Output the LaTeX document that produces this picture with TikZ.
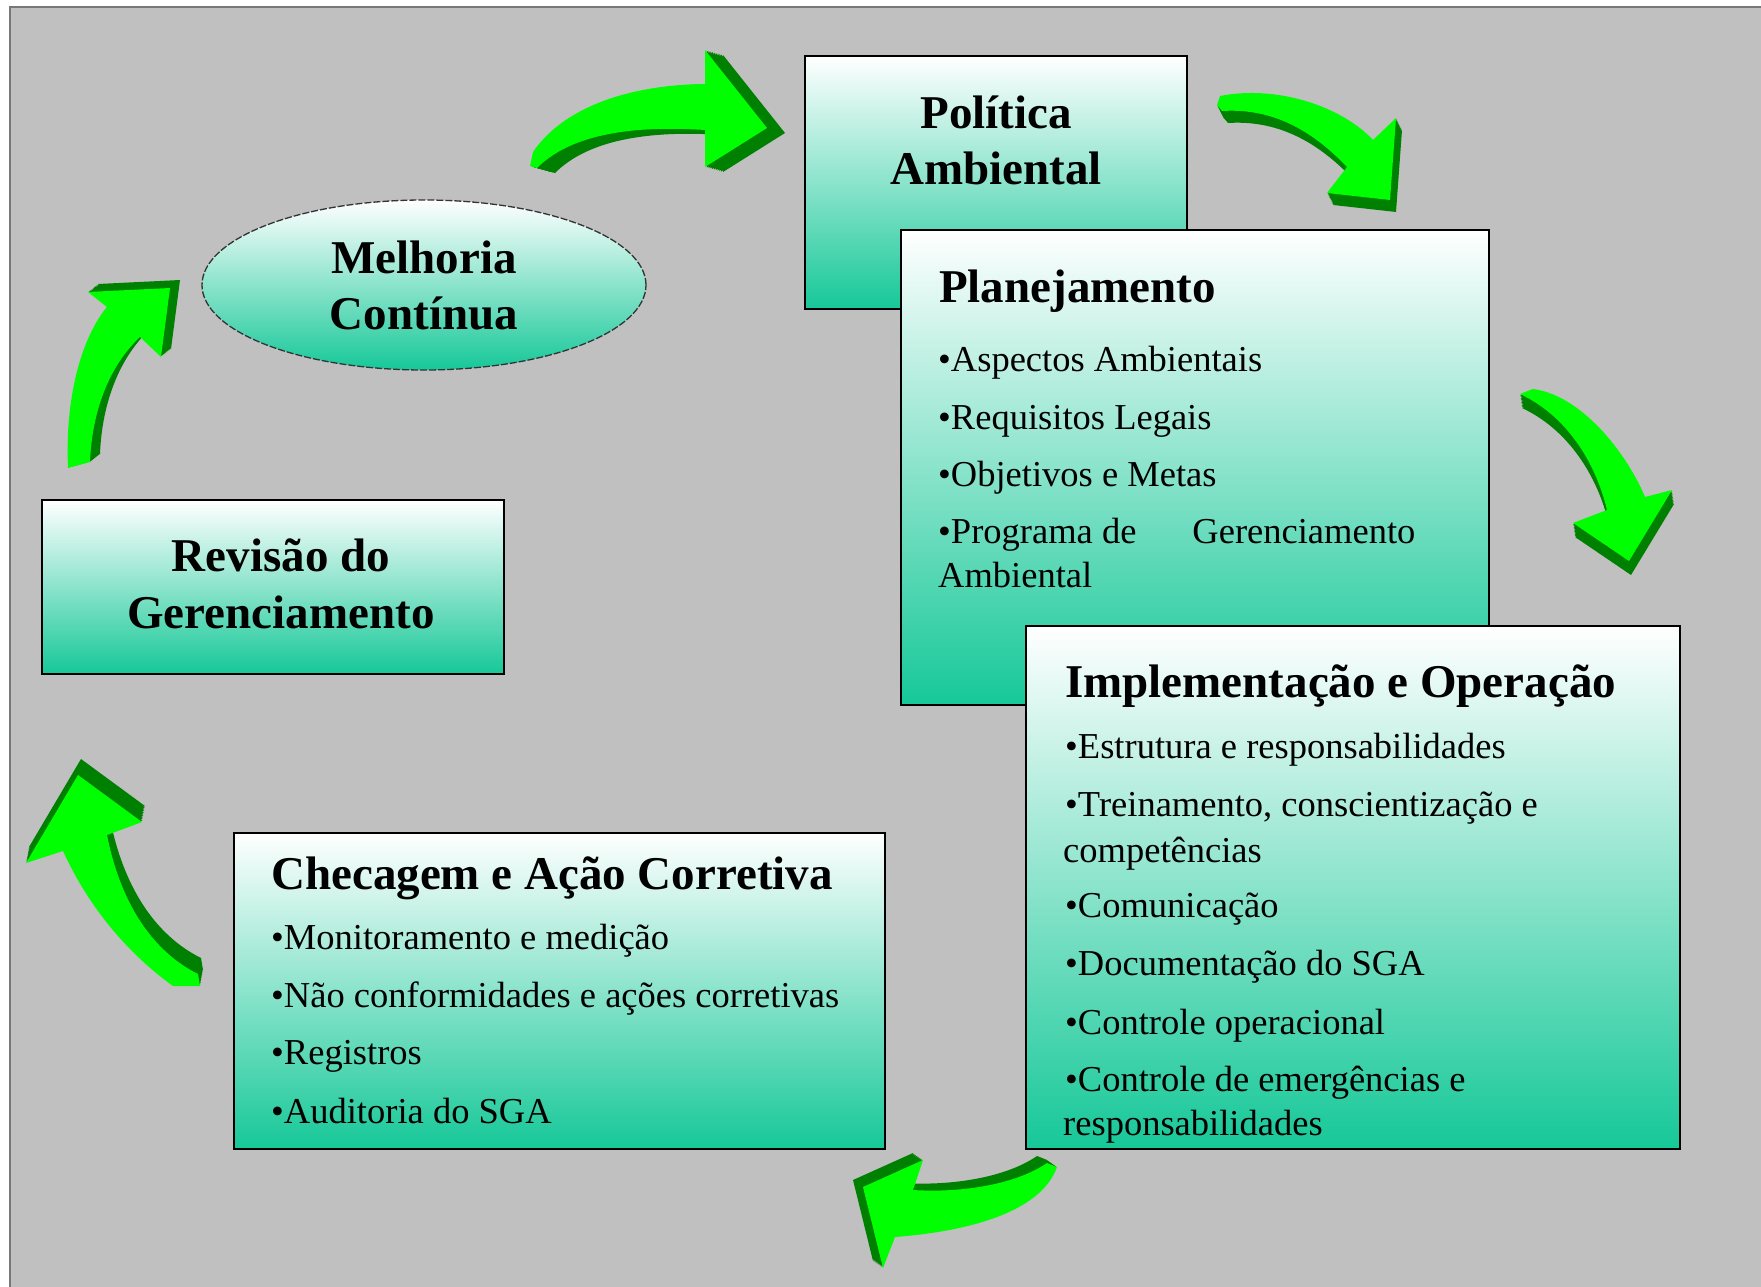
\documentclass[tikz,border=0pt]{standalone}
\usepackage{fontspec}
\setmainfont{Liberation Serif}
\usetikzlibrary{shapes.geometric}
\definecolor{bggray}{RGB}{192,192,192}
\definecolor{framegray}{RGB}{120,120,120}
\definecolor{teal1}{RGB}{22,200,152}
\definecolor{lgreen}{RGB}{0,255,0}
\definecolor{dgreen}{RGB}{0,128,0}
\newcommand{\greenarrow}[3]{%
  \foreach \tt in {0.1,0.2,0.3,0.4,0.5,0.6,0.7,0.8,0.9,1.0}{%
    \fill[dgreen, shift={({\tt*(#1)},{\tt*(#2)})}] #3;}
  \fill[lgreen] #3;
}
\begin{document}
\begin{tikzpicture}[x=1pt,y=-1pt,
  box/.style={rectangle, draw=black, line width=1.5pt, top color=white, bottom color=teal1, inner sep=0pt},
  ttl/.style={font=\fontsize{47}{56}\selectfont\bfseries, align=center, inner sep=0pt},
  lhead/.style={font=\fontsize{47}{56}\selectfont\bfseries, anchor=mid west, inner sep=0pt},
  itm/.style={font=\fontsize{36.5}{44}\selectfont, anchor=mid west, inner sep=0pt}]
\useasboundingbox (0,0) rectangle (1761,1287);
\fill[white] (0,0) rectangle (1761,1287);
\draw[draw=framegray, fill=bggray, line width=2pt] (10,7) rectangle (1766,1295);

% arrows
\greenarrow{18}{5}{(530,166) -- (533,152) .. controls (560,112) and (620,85) .. (705,84) -- (705,50) -- (767,128) -- (705,167) -- (705,130) .. controls (630,125) and (570,135) .. (537,168) -- cycle}
\greenarrow{6}{12}{(1217,105) -- (1220,96) .. controls (1275,85) and (1340,105) .. (1373,140) -- (1396,118) -- (1390,200) -- (1327,193) -- (1347,167) .. controls (1310,128) and (1270,108) .. (1222,111) -- cycle}
\greenarrow{2}{14}{(1520,394) -- (1533,389) .. controls (1580,395) and (1625,450) .. (1645,497) -- (1672,490) -- (1629,561) -- (1573,523) -- (1607,510) .. controls (1595,460) and (1565,415) .. (1520,394) -- cycle}
\greenarrow{-10}{-7}{(1057,1167) .. controls (1040,1215) and (960,1232) .. (895,1237) -- (883,1268) -- (863,1187) -- (923,1160) -- (913,1190) .. controls (960,1193) and (1015,1185) .. (1047,1163) -- cycle}
\greenarrow{3}{-16}{(173,986) .. controls (130,955) and (90,910) .. (63,851) -- (26,863) -- (78,775) -- (142,822) -- (107,835) .. controls (120,900) and (150,950) .. (198,974) -- (200,986) -- cycle}
\greenarrow{10}{-8}{(68,468) .. controls (65,400) and (80,340) .. (107,307) -- (88,292) -- (170,288) -- (161,357) -- (140,337) .. controls (110,365) and (92,410) .. (90,462) -- cycle}

% Melhoria
\node[ellipse, draw=black!80, dashed, dash pattern=on 7pt off 2pt, line width=1.3pt, top color=white, bottom color=teal1,
  minimum width=444, minimum height=170, inner sep=0pt, align=center, font=\fontsize{47}{56}\selectfont\bfseries]
  (mel) at (424,285) {Melhoria\\Contínua};

% Revisao
\node[box, minimum width=462, minimum height=174] (rev) at (273,587) {};
\node[ttl, font=\fontsize{47}{57}\selectfont\bfseries] (revt) at (281,584) {Revisão do\\Gerenciamento};

% Politica
\node[box, minimum width=382, minimum height=253] (pol) at (996,182.5) {};
\node[ttl] (polt) at (996,140) {Política\\Ambiental};

% Planejamento
\node[box, minimum width=588, minimum height=475] (plan) at (1195,467.5) {};
\node[lhead] (plant) at (939,300) {Planejamento};
\node[itm] (p1) at (938,369) {•Aspectos Ambientais};
\node[itm] (p2) at (938,427) {•Requisitos Legais};
\node[itm] (p3) at (938,484) {•Objetivos e Metas};
\node[itm] (p4) at (938,541) {•Programa de\hspace{56pt}Gerenciamento};
\node[itm] (p4b) at (938,585) {Ambiental};

% Implementacao
\node[box, minimum width=654, minimum height=523] (impl) at (1353,887.5) {};
\node[lhead] (implt) at (1065,695) {Implementação e Operação};
\node[itm] (i1) at (1065,756) {•Estrutura e responsabilidades};
\node[itm] (i2) at (1065,814) {•Treinamento, conscientização e};
\node[itm] (i2b) at (1063,860) {competências};
\node[itm] (i3) at (1065,915) {•Comunicação};
\node[itm] (i4) at (1065,973) {•Documentação do SGA};
\node[itm] (i5) at (1065,1032) {•Controle operacional};
\node[itm] (i6) at (1065,1089) {•Controle de emergências e};
\node[itm] (i6b) at (1063,1133) {responsabilidades};

% Checagem
\node[box, minimum width=651, minimum height=316] (chk) at (559.5,991) {};
\node[lhead] (chkt) at (271,887) {Checagem e Ação Corretiva};
\node[itm] (c1) at (271,947) {•Monitoramento e medição};
\node[itm] (c2) at (271,1005) {•Não conformidades e ações corretivas};
\node[itm] (c3) at (271,1062) {•Registros};
\node[itm] (c4) at (271,1121) {•Auditoria do SGA};
\end{tikzpicture}
\end{document}
